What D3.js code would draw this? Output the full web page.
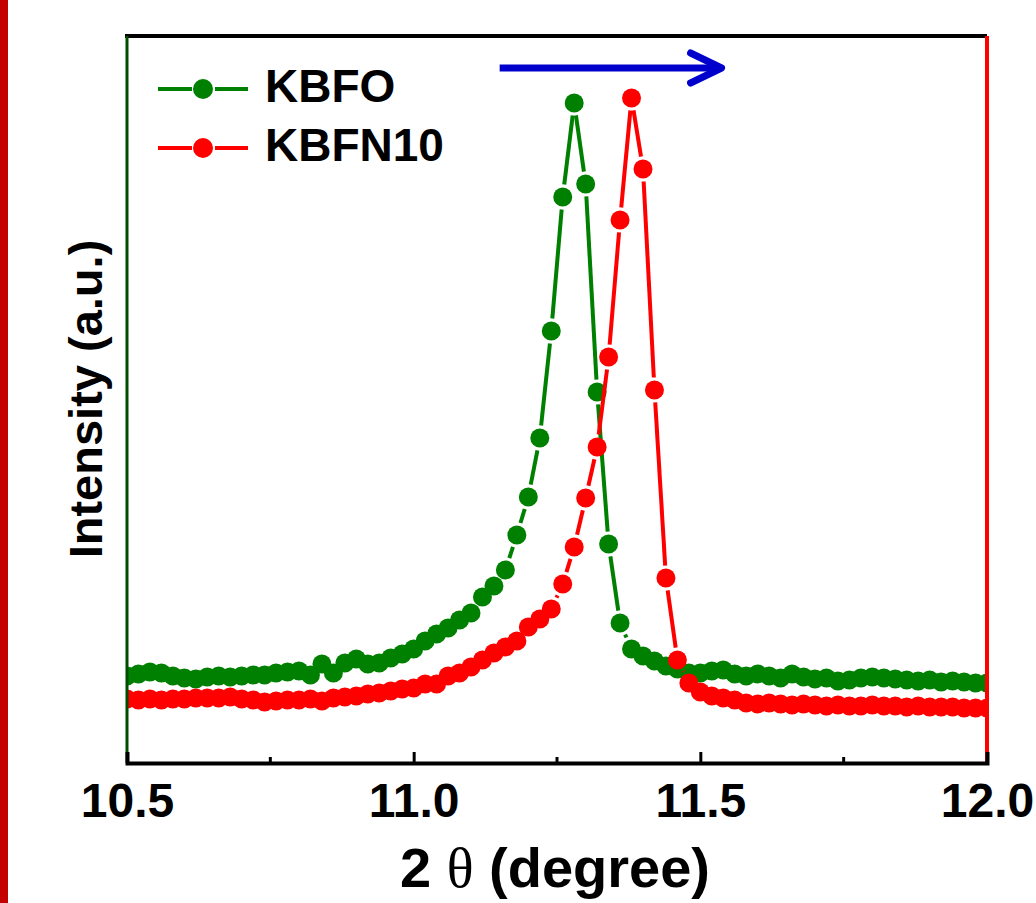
<!DOCTYPE html>
<html>
<head>
<meta charset="utf-8">
<script src="https://cdn.jsdelivr.net/npm/d3@7"></script>
<style>
  body { margin: 0; background: #fff; }
  svg { display: block; }
</style>
</head>
<body>
<svg id="chart" width="1036" height="903"></svg>
<script>
// 2-theta positions (degree)
const twoTheta = [
  10.50, 10.52, 10.54, 10.56, 10.58, 10.60, 10.62, 10.64, 10.66, 10.68,
  10.70, 10.72, 10.74, 10.76, 10.78, 10.80, 10.82, 10.84, 10.86, 10.88,
  10.90, 10.92, 10.94, 10.96, 10.98, 11.00, 11.02, 11.04, 11.06, 11.08,
  11.10, 11.12, 11.14, 11.16, 11.18, 11.20, 11.22, 11.24, 11.26, 11.28,
  11.30, 11.32, 11.34, 11.36, 11.38, 11.40, 11.42, 11.44, 11.46, 11.48,
  11.50, 11.52, 11.54, 11.56, 11.58, 11.60, 11.62, 11.64, 11.66, 11.68,
  11.70, 11.72, 11.74, 11.76, 11.78, 11.80, 11.82, 11.84, 11.86, 11.88,
  11.90, 11.92, 11.94, 11.96, 11.98, 12.00
];

// intensity (a.u.)
const kbfo = [
  87, 89, 91, 90, 87, 85, 84, 86, 87, 86,
  87, 88, 88, 90, 91, 92, 88, 99, 90, 100,
  104, 99, 100, 105, 109, 114, 122, 129, 135, 143,
  150, 166, 177, 193, 228, 266, 325, 432, 566, 660,
  579, 371, 219, 140, 114, 107, 102, 97, 94, 90,
  90, 92, 93, 89, 87, 89, 87, 85, 89, 86,
  84, 85, 82, 83, 85, 86, 85, 84, 83, 82,
  83, 81, 82, 81, 80, 80
];

const kbfn10 = [
  64, 63, 64, 63, 64, 64, 65, 65, 65, 66,
  64, 63, 61, 62, 63, 63, 64, 62, 65, 66,
  67, 69, 70, 72, 74, 75, 79, 79, 87, 90,
  96, 103, 110, 116, 122, 136, 144, 154, 179, 216,
  265, 316, 406, 543, 665, 594, 373, 185, 103, 80,
  71, 67, 65, 63, 60, 59, 60, 59, 58, 59,
  58, 57, 58, 57, 57, 58, 57, 57, 56, 57,
  56, 56, 56, 55, 55, 55
];

const seriesNames = ["KBFO", "KBFN10"];
const seriesColors = ["#008000", "#ff0000"];
const majorTicks = [10.5, 11.0, 11.5, 12.0];
const minorTicks = [10.75, 11.25, 11.75];

// shift arrow (2-theta from, to; intensity level)
const arrowTheta = [11.15, 11.537];
const arrowLevel = 695;

const FONT = "'Liberation Sans', Arial, sans-serif";
const svg = d3.select("#chart");
const padL = 127, padR = 987, padT = 36, padB = 763;

const x = d3.scaleLinear().domain([10.5, 12.0]).range([padL, padR]);
const y = d3.scaleLinear().domain([0, 727]).range([padB, padT]);

// red strip at the very left
svg.append("rect")
  .attr("x", 0).attr("y", 0)
  .attr("width", 8).attr("height", 903)
  .attr("fill", "#c40000");

svg.append("clipPath").attr("id", "plotClip")
  .append("rect")
  .attr("x", padL).attr("y", padT)
  .attr("width", padR - padL).attr("height", padB - padT);

const plot = svg.append("g").attr("clip-path", "url(#plotClip)");

const R = 9.5;    // marker radius
const GAP = 3;    // gap between line and marker

function drawSeries(values, color) {
  const pts = values.map((v, i) => [x(twoTheta[i]), y(v)]);
  const g = plot.append("g");
  // line segments, broken around each marker
  for (let i = 0; i < pts.length - 1; i++) {
    const [x0, y0] = pts[i];
    const [x1, y1] = pts[i + 1];
    const len = Math.hypot(x1 - x0, y1 - y0);
    const cut = R + GAP;
    if (len <= 2 * cut) continue;
    const ux = (x1 - x0) / len, uy = (y1 - y0) / len;
    g.append("line")
      .attr("x1", x0 + ux * cut).attr("y1", y0 + uy * cut)
      .attr("x2", x1 - ux * cut).attr("y2", y1 - uy * cut)
      .attr("stroke", color)
      .attr("stroke-width", 4);
  }
  g.selectAll("circle")
    .data(pts)
    .join("circle")
    .attr("cx", d => d[0])
    .attr("cy", d => d[1])
    .attr("r", R)
    .attr("fill", color);
}

drawSeries(kbfo, seriesColors[0]);
drawSeries(kbfn10, seriesColors[1]);

// frame
svg.append("line")
  .attr("x1", padL - 2).attr("x2", padR).attr("y1", padT).attr("y2", padT)
  .attr("stroke", "#000").attr("stroke-width", 4);
svg.append("line")
  .attr("x1", padL).attr("x2", padL).attr("y1", padT).attr("y2", padB)
  .attr("stroke", "#004d00").attr("stroke-width", 3);
svg.append("line")
  .attr("x1", padR).attr("x2", padR).attr("y1", padT).attr("y2", padB + 2)
  .attr("stroke", "#ff0000").attr("stroke-width", 4);

// bottom axis
const xAxis = svg.append("g")
  .attr("transform", `translate(0,${padB})`)
  .call(d3.axisBottom(x)
    .tickValues(majorTicks)
    .tickSize(-11)
    .tickPadding(20)
    .tickFormat(d3.format(".1f")));
xAxis.select(".domain").attr("stroke", "#000").attr("stroke-width", 4);
xAxis.selectAll(".tick line").attr("stroke", "#000").attr("stroke-width", 3);
xAxis.selectAll(".tick text")
  .attr("fill", "#000")
  .style("font-family", FONT)
  .style("font-weight", "bold")
  .style("font-size", "48px");

svg.append("g")
  .selectAll("line")
  .data(minorTicks)
  .join("line")
  .attr("x1", d => x(d)).attr("x2", d => x(d))
  .attr("y1", padB).attr("y2", padB - 6)
  .attr("stroke", "#000").attr("stroke-width", 3);

// axis titles
const xTitle = svg.append("text")
  .attr("x", 555).attr("y", 887)
  .attr("text-anchor", "middle")
  .style("font-family", FONT)
  .style("font-weight", "bold")
  .style("font-size", "56px");
xTitle.append("tspan").text("2 ");
xTitle.append("tspan")
  .style("font-family", "'Liberation Serif', 'Times New Roman', serif")
  .style("font-weight", "normal")
  .text("θ");
xTitle.append("tspan").text(" (degree)");

svg.append("text")
  .attr("transform", "translate(102,399) rotate(-90)")
  .attr("text-anchor", "middle")
  .style("font-family", FONT)
  .style("font-weight", "bold")
  .style("font-size", "47px")
  .text("Intensity (a.u.)");

// legend
const legend = svg.append("g");
seriesNames.forEach((name, i) => {
  const ly = 89 + i * 59;
  const row = legend.append("g");
  row.append("line")
    .attr("x1", 158).attr("x2", 192).attr("y1", ly).attr("y2", ly)
    .attr("stroke", seriesColors[i]).attr("stroke-width", 4);
  row.append("line")
    .attr("x1", 215).attr("x2", 248).attr("y1", ly).attr("y2", ly)
    .attr("stroke", seriesColors[i]).attr("stroke-width", 4);
  row.append("circle")
    .attr("cx", 203).attr("cy", ly).attr("r", 10)
    .attr("fill", seriesColors[i]);
  row.append("text")
    .attr("x", 265).attr("y", ly + 13)
    .style("font-family", FONT)
    .style("font-weight", "bold")
    .style("font-size", "46px")
    .attr("fill", "#000")
    .text(name);
});

// peak shift arrow
const ay = y(arrowLevel);
const ax0 = x(arrowTheta[0]), ax1 = x(arrowTheta[1]);
svg.append("line")
  .attr("x1", ax0).attr("x2", ax1 - 3).attr("y1", ay).attr("y2", ay)
  .attr("stroke", "#0000cc").attr("stroke-width", 7);
svg.append("path")
  .attr("d", `M${ax1 - 31},${ay - 15} L${ax1},${ay} L${ax1 - 31},${ay + 15}`)
  .attr("fill", "none")
  .attr("stroke", "#0000cc")
  .attr("stroke-width", 7)
  .attr("stroke-linecap", "round")
  .attr("stroke-linejoin", "round");
</script>
</body>
</html>
